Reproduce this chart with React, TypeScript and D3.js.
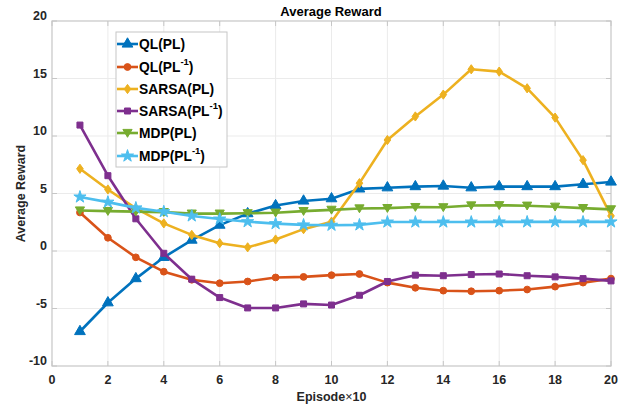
import React from 'react';
import * as d3 from 'd3';

const W = 632;
const H = 405;
const MARGIN = { top: 21, right: 21, bottom: 39, left: 52 };

const EPISODES = d3.range(1, 21);
const X_TICKS = [0, 2, 4, 6, 8, 10, 12, 14, 16, 18, 20];
const Y_TICKS = [-10, -5, 0, 5, 10, 15, 20];

const qlPL = [-7.0, -4.5, -2.4, -0.55, 0.95, 2.25, 3.25, 3.95, 4.35, 4.55, 5.4, 5.5, 5.6, 5.65, 5.5, 5.6, 5.6, 5.6, 5.8, 6.0];
const qlPLinv = [3.35, 1.15, -0.55, -1.8, -2.5, -2.8, -2.65, -2.3, -2.25, -2.1, -2.0, -2.75, -3.2, -3.45, -3.5, -3.45, -3.35, -3.1, -2.75, -2.4];
const sarsaPL = [7.15, 5.35, 3.7, 2.4, 1.4, 0.68, 0.32, 1.0, 1.9, 2.55, 5.9, 9.65, 11.7, 13.6, 15.8, 15.6, 14.15, 11.6, 7.9, 3.05];
const sarsaPLinv = [10.95, 6.55, 2.8, -0.2, -2.45, -4.05, -4.95, -4.95, -4.6, -4.7, -3.85, -2.65, -2.1, -2.15, -2.05, -2.0, -2.15, -2.25, -2.4, -2.6];
const mdpPL = [3.52, 3.47, 3.42, 3.38, 3.25, 3.25, 3.28, 3.33, 3.47, 3.58, 3.7, 3.73, 3.82, 3.8, 3.96, 3.98, 3.94, 3.85, 3.73, 3.62];
const mdpPLinv = [4.7, 4.25, 3.75, 3.42, 3.05, 2.78, 2.55, 2.38, 2.27, 2.24, 2.27, 2.52, 2.52, 2.52, 2.52, 2.53, 2.53, 2.53, 2.53, 2.53];

const SERIES = [
  { name: 'QL(PL)', sup: '', values: qlPL, color: '#0072BD', symbol: 'triUp' },
  { name: 'QL(PL', sup: '-1', values: qlPLinv, color: '#D95319', symbol: 'circle' },
  { name: 'SARSA(PL)', sup: '', values: sarsaPL, color: '#EDB120', symbol: 'diamond' },
  { name: 'SARSA(PL', sup: '-1', values: sarsaPLinv, color: '#7E2F8E', symbol: 'square' },
  { name: 'MDP(PL)', sup: '', values: mdpPL, color: '#77AC30', symbol: 'triDown' },
  { name: 'MDP(PL', sup: '-1', values: mdpPLinv, color: '#4DBEEE', symbol: 'star' }
];

const FONT = '"Liberation Sans", Arial, sans-serif';
const BOX = '#c6c6c6';
const GRID = '#ebebeb';

function markerPath(kind: string): string {
  switch (kind) {
    case 'triUp': return d3.symbol(d3.symbolTriangle, 50)() as string;
    case 'triDown': return 'M0,4.3L-4.6,-3.6L4.6,-3.6Z';
    case 'circle': return d3.symbol(d3.symbolCircle, 36)() as string;
    case 'diamond': return 'M0,-4.6L3.3,0L0,4.6L-3.3,0Z';
    case 'square': return d3.symbol(d3.symbolSquare, 36)() as string;
    default: return d3.symbol(d3.symbolStar, 46)() as string;
  }
}

export default function App() {
  const innerW = W - MARGIN.left - MARGIN.right;
  const innerH = H - MARGIN.top - MARGIN.bottom;
  const x = d3.scaleLinear().domain([0, 20]).range([0, innerW]);
  const y = d3.scaleLinear().domain([-10, 20]).range([innerH, 0]);

  const line = d3.line<number>().x((_, i) => x(EPISODES[i])).y(d => y(d));

  const legendX = 116 - MARGIN.left;
  const legendY = 32 - MARGIN.top;
  const legendRows = [12, 35, 57, 79, 101, 124];

  return (
    <svg width={W} height={H} style={{ position: 'absolute', left: 0, top: 0, background: '#fff', fontFamily: FONT }}>
      <text x={331} y={16} textAnchor='middle' fontSize={13} fontWeight='bold' fill='#000'>Average Reward</text>
      <g transform={`translate(${MARGIN.left},${MARGIN.top})`}>
        {X_TICKS.slice(1, -1).map(t => (
          <line key={'gx' + t} x1={x(t)} x2={x(t)} y1={0} y2={innerH} stroke={GRID} strokeWidth={1} />
        ))}
        {Y_TICKS.slice(1, -1).map(t => (
          <line key={'gy' + t} x1={0} x2={innerW} y1={y(t)} y2={y(t)} stroke={GRID} strokeWidth={1} />
        ))}
        <rect x={0} y={0} width={innerW} height={innerH} fill='none' stroke={BOX} strokeWidth={1.2} />
        {X_TICKS.map(t => (
          <g key={'tx' + t}>
            <line x1={x(t)} x2={x(t)} y1={innerH} y2={innerH - 5} stroke={BOX} />
            <line x1={x(t)} x2={x(t)} y1={0} y2={5} stroke={BOX} />
            <text x={x(t)} y={innerH + 18} textAnchor='middle' fontSize={12.5} fontWeight='bold' fill='#262626'>{t}</text>
          </g>
        ))}
        {Y_TICKS.map(t => (
          <g key={'ty' + t}>
            <line x1={0} x2={5} y1={y(t)} y2={y(t)} stroke={BOX} />
            <line x1={innerW} x2={innerW - 5} y1={y(t)} y2={y(t)} stroke={BOX} />
            <text x={-5} y={y(t) - 1} textAnchor='end' fontSize={12.5} fontWeight='bold' fill='#262626'>{t}</text>
          </g>
        ))}
        <text x={innerW / 2} y={innerH + 35} textAnchor='middle' fontSize={12.5} fontWeight='bold' fill='#262626'>
          Episode<tspan fontWeight='normal'>{'\u00d7'}</tspan>10
        </text>
        <text transform={`translate(${25 - MARGIN.left},${innerH / 2}) rotate(-90)`} textAnchor='middle' fontSize={12.5} fontWeight='bold' fill='#262626'>Average Reward</text>

        {SERIES.map(s => (
          <g key={s.name + s.sup}>
            <path d={line(s.values) as string} fill='none' stroke={s.color} strokeWidth={2.6} strokeLinejoin='round' />
            {s.values.map((v, i) => (
              <path key={i} d={markerPath(s.symbol)} transform={`translate(${x(EPISODES[i])},${y(v)})`} fill={s.color} stroke={s.color} strokeWidth={1} />
            ))}
          </g>
        ))}

        <g transform={`translate(${legendX},${legendY})`}>
          <rect x={0} y={0} width={111} height={135} fill='#fff' stroke={BOX} strokeWidth={1} />
          {SERIES.map((s, i) => (
            <g key={'lg' + i} transform={`translate(0,${legendRows[i]})`}>
              <line x1={1} x2={22} y1={0} y2={0} stroke={s.color} strokeWidth={2.6} />
              <path d={markerPath(s.symbol)} transform='translate(11.5,0)' fill={s.color} stroke={s.color} strokeWidth={1} />
              <text x={23} y={5} fontSize={13.8} fontWeight='bold' fill='#000'>
                {s.name}
                {s.sup ? <tspan fontSize={9.5} dy={-7}>{s.sup}</tspan> : null}
                {s.sup ? <tspan dy={7}>)</tspan> : null}
              </text>
            </g>
          ))}
        </g>
      </g>
    </svg>
  );
}
